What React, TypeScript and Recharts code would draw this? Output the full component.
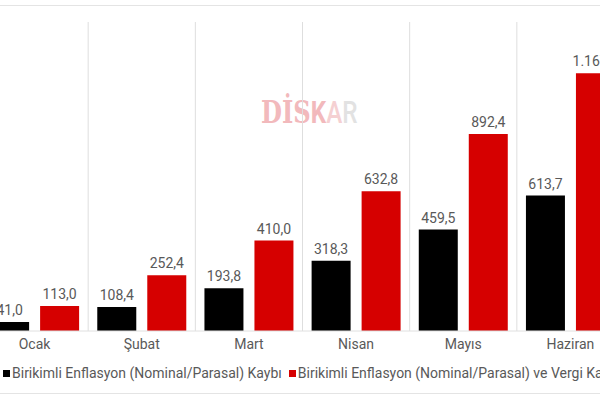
import React from "react";
import { BarChart, Bar, XAxis, YAxis, CartesianGrid, LabelList, Legend } from "recharts";

const categories = ["Ocak", "Şubat", "Mart", "Nisan", "Mayıs", "Haziran"];
const nominalLoss = [41.0, 108.4, 193.8, 318.3, 459.5, 613.7];
const taxLoss = [113.0, 252.4, 410.0, 632.8, 892.4, 1167.4];

const seriesNames = [
  "Birikimli Enflasyon (Nominal/Parasal) Kaybı",
  "Birikimli Enflasyon (Nominal/Parasal) ve Vergi Kaybı",
];

const data = categories.map((month, i) => ({
  month,
  nominal: nominalLoss[i],
  tax: taxLoss[i],
}));

const FONT = "Roboto, 'Noto Sans', sans-serif";
const TEXT = "#595959";
const RED = "#d60000";

// 1.167,4 style
const fmt = (v: any) => {
  const [int, dec] = Number(v).toFixed(1).split(".");
  return int.replace(/\B(?=(\d{3})+(?!\d))/g, ".") + "," + dec;
};

const renderLegend = (props: any) => {
  const { payload } = props;
  return (
    <div style={{ display: "flex", alignItems: "center", gap: 7, fontFamily: FONT, fontSize: 14, color: TEXT, whiteSpace: "nowrap" }}>
      {payload.map((p: any) => (
        <div key={p.value} style={{ display: "flex", alignItems: "center", gap: 2 }}>
          <div style={{ width: 7, height: 7, background: p.color }} />
          <span>{p.value}</span>
        </div>
      ))}
    </div>
  );
};

export default function App() {
  const n = categories.length;
  return (
    <div style={{ position: "absolute", left: 0, top: 0, width: 600, height: 400, overflow: "hidden", background: "#fff" }}>
      <div style={{ position: "absolute", left: 0, top: 5, width: 600, height: 1, background: "#e4e4e4" }} />
      <div style={{ position: "absolute", left: 0, top: 393, width: 600, height: 1, background: "#e4e4e4" }} />

      {/* watermark */}
      <div
        style={{
          position: "absolute",
          left: 261,
          top: 94,
          fontSize: 31,
          lineHeight: "36px",
          fontWeight: 700,
          whiteSpace: "nowrap",
          transform: "scaleX(0.78)",
          transformOrigin: "left top",
        }}
      >
        <span style={{ fontFamily: "'DejaVu Serif', serif", color: "#f2b9bc" }}>DİS</span>
        <span style={{ fontFamily: FONT, color: "#f2b9bc" }}>K</span>
        <span style={{ fontFamily: FONT, color: "#f5d0d2", fontWeight: 500 }}>A</span>
        <span style={{ fontFamily: FONT, color: "#e2e2e2", fontWeight: 500 }}>R</span>
      </div>

      <div style={{ position: "absolute", left: -19, top: 0 }}>
        <BarChart
          width={643}
          height={400}
          data={data}
          margin={{ top: 22, right: 0, left: 0, bottom: 23 }}
          barCategoryGap="8.5%"
          barGap={11}
        >
          <CartesianGrid
            horizontal={false}
            stroke="#dedede"
            verticalCoordinatesGenerator={({ offset }: any) =>
              Array.from({ length: n + 1 }, (_, i) => offset.left + (i * offset.width) / n)
            }
          />
          <XAxis
            dataKey="month"
            axisLine={{ stroke: "#e0e0e0" }}
            tickLine={false}
            height={30}
            tick={{ fill: TEXT, fontSize: 14, fontFamily: FONT }}
            dy={0}
          />
          <YAxis hide domain={[0, 1400]} />
          <Legend
            content={renderLegend}
            verticalAlign="bottom"
            wrapperStyle={{ left: 22, width: 1000, bottom: 19 }}
          />
          <Bar dataKey="nominal" name={seriesNames[0]} fill="#000000" isAnimationActive={false}>
            <LabelList dataKey="nominal" position="top" offset={7} formatter={fmt} fill={TEXT} fontSize={14} fontFamily={FONT} />
          </Bar>
          <Bar dataKey="tax" name={seriesNames[1]} fill={RED} isAnimationActive={false}>
            <LabelList dataKey="tax" position="top" offset={7} formatter={fmt} fill={TEXT} fontSize={14} fontFamily={FONT} />
          </Bar>
        </BarChart>
      </div>
    </div>
  );
}
